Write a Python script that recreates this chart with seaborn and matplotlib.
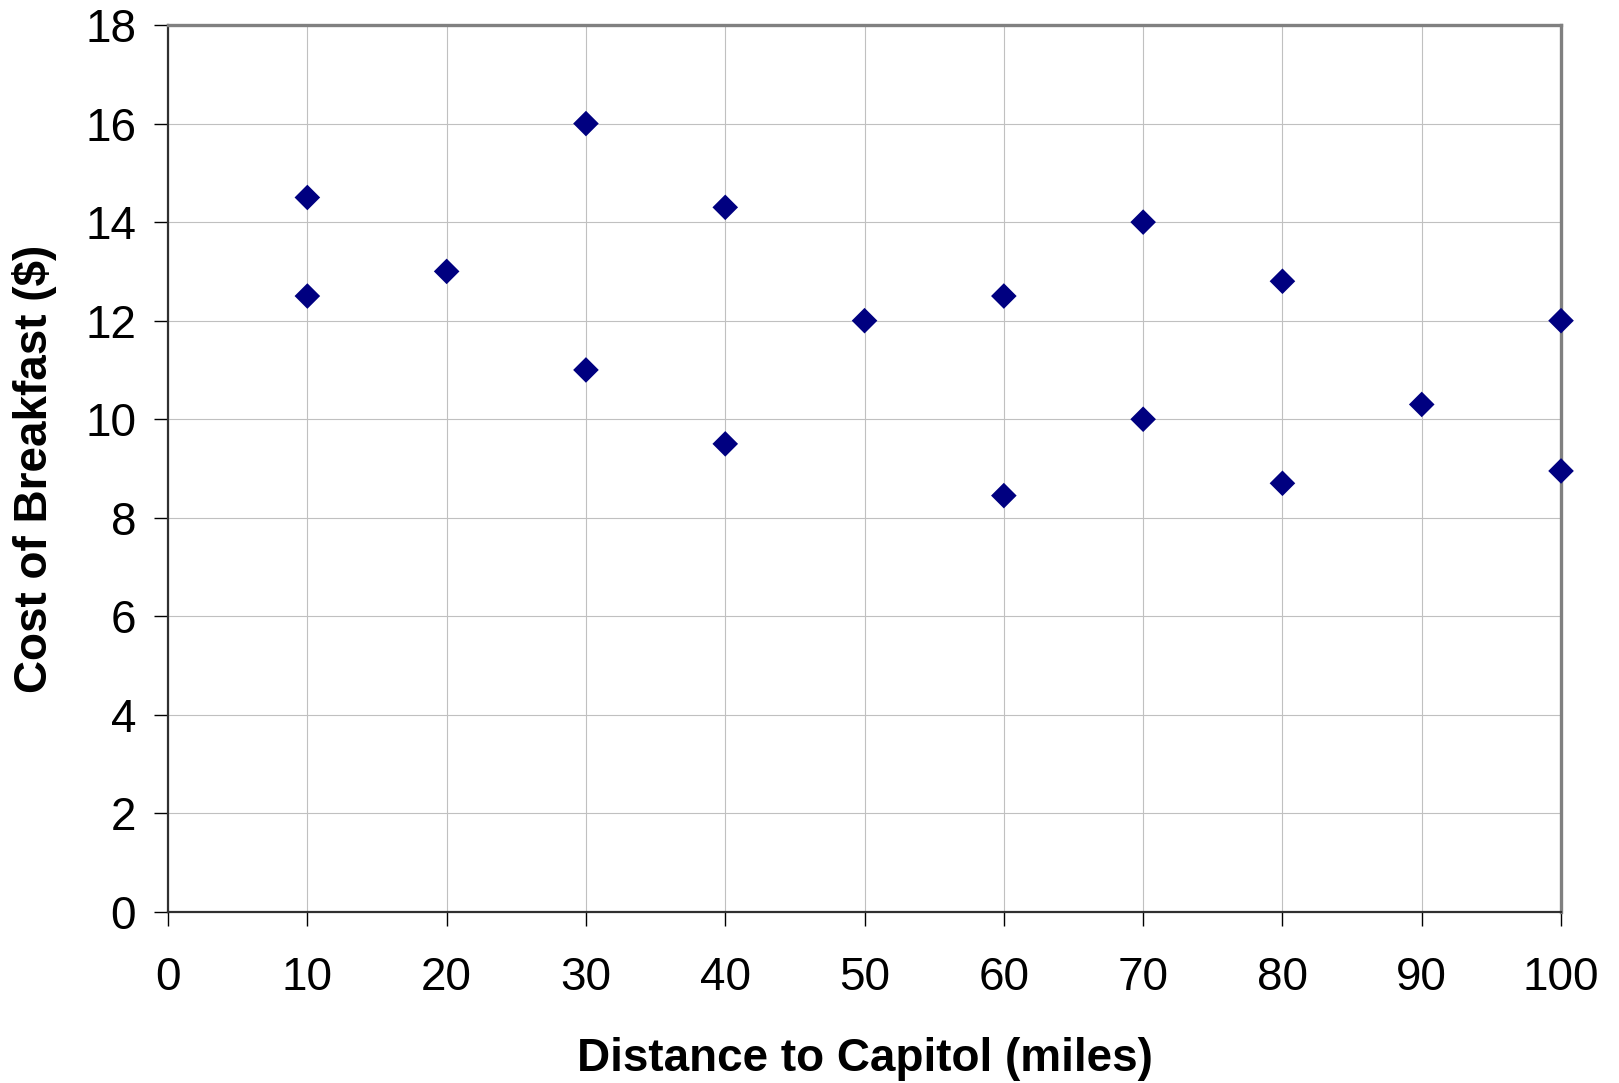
import matplotlib
matplotlib.use("Agg")
import matplotlib.pyplot as plt
import seaborn as sns
import pandas as pd

# data
distance = [10, 10, 20, 30, 30, 40, 40, 50, 60, 60, 70, 70, 80, 80, 90, 100, 100]
cost     = [14.5, 12.5, 13.0, 16.0, 11.0, 14.3, 9.5, 12.0, 12.5, 8.45,
            14.0, 10.0, 12.8, 8.7, 10.3, 12.0, 8.95]

x_ticks = list(range(0, 101, 10))
y_ticks = list(range(0, 19, 2))

df = pd.DataFrame({"distance": distance, "cost": cost})

sns.set_style("white")
plt.rcParams["font.family"] = ["Liberation Sans", "DejaVu Sans"]
plt.rcParams["text.color"] = "black"
plt.rcParams["axes.labelcolor"] = "black"
plt.rcParams["xtick.color"] = "black"
plt.rcParams["ytick.color"] = "black"

fig = plt.figure(figsize=(16.19, 10.83), dpi=100)
ax = fig.add_axes([0.1038, 0.1579, 0.8604, 0.8190])

sns.scatterplot(data=df, x="distance", y="cost", marker="D", s=170,
                color="#000080", edgecolor="none", zorder=3, clip_on=False, ax=ax)

ax.set_xlim(0, 100)
ax.set_ylim(0, 18)
ax.set_xticks(x_ticks)
ax.set_yticks(y_ticks)
ax.grid(True, color="#c0c0c0", linewidth=0.8)
ax.set_axisbelow(True)

for side in ["left", "bottom"]:
    ax.spines[side].set_color("#303030")
    ax.spines[side].set_linewidth(1.6)
for side in ["top", "right"]:
    ax.spines[side].set_color("#808080")
    ax.spines[side].set_linewidth(2.4)

ax.tick_params(axis="both", direction="out", length=10, width=1, color="black",
               labelsize=33, bottom=True, left=True)
ax.tick_params(axis="x", pad=22)
ax.tick_params(axis="y", pad=13)

ax.set_xlabel("Distance to Capitol (miles)", fontsize=33, fontweight="bold", labelpad=26)
ax.set_ylabel("Cost of Breakfast ($)", fontsize=33, fontweight="bold", labelpad=20)

fig.savefig("out.png", dpi=100)
